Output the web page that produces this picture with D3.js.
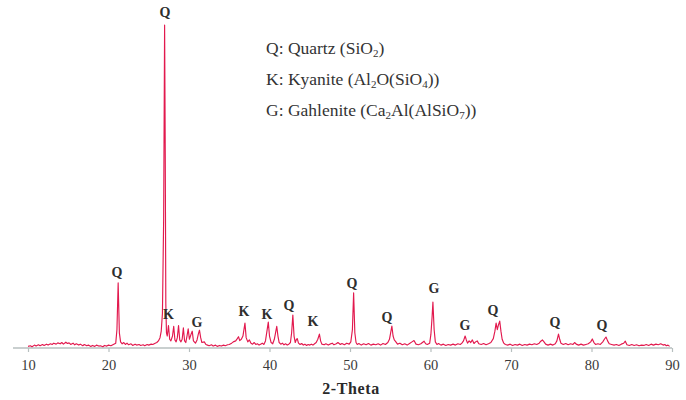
<!DOCTYPE html>
<html>
<head>
<meta charset="utf-8">
<script src="https://cdn.jsdelivr.net/npm/d3@7"></script>
<style>
  html, body { margin: 0; padding: 0; background: #ffffff; }
  svg { display: block; }
</style>
</head>
<body>
<svg id="chart" width="686" height="400"></svg>
<script>
// XRD pattern: [2-theta (deg), intensity (counts, main peak = 1000)]
const pattern = [
  [10.0,8],[10.3,10],[10.5,7],[10.8,12],[11.0,9],[11.3,13],[11.5,10],[11.8,14],[12.0,11],[12.3,15],
  [12.5,12],[12.8,16],[13.0,14],[13.2,18],[13.5,15],[13.7,19],[14.0,16],[14.2,20],[14.4,15],[14.7,21],
  [14.9,17],[15.1,19],[15.3,14],[15.6,18],[15.8,13],[16.0,16],[16.3,12],[16.5,15],[16.8,10],[17.0,14],
  [17.3,10],[17.5,12],[17.8,8],[18.0,11],[18.3,8],[18.5,12],[18.8,9],[19.0,10],[19.3,7],[19.5,11],
  [19.8,9],[20.0,12],[20.3,10],[20.6,14],[20.9,18],[21.05,60],[21.2,204],[21.35,50],[21.5,22],[21.7,16],
  [21.9,20],[22.1,14],[22.3,18],[22.5,13],[22.8,16],[23.0,11],[23.3,15],[23.5,12],[23.8,14],[24.0,11],
  [24.3,13],[24.5,10],[24.8,14],[25.0,12],[25.3,15],[25.5,14],[25.8,18],[26.0,20],[26.2,25],[26.4,35],
  [26.55,55],[26.7,110],[26.85,400],[26.97,1000],[27.05,600],[27.12,140],[27.2,50],[27.3,40],[27.45,72],[27.6,30],
  [27.75,25],[27.95,40],[28.1,70],[28.25,28],[28.4,22],[28.55,35],[28.7,72],[28.85,28],[29.0,22],[29.15,30],
  [29.3,65],[29.45,25],[29.6,20],[29.75,40],[29.9,62],[30.05,30],[30.25,45],[30.4,55],[30.55,25],[30.8,18],
  [31.0,28],[31.15,45],[31.3,58],[31.45,35],[31.6,20],[31.9,22],[32.1,14],[32.3,12],[32.5,10],[32.8,13],
  [33.0,9],[33.3,12],[33.5,8],[33.8,11],[34.0,9],[34.3,12],[34.5,10],[34.8,13],[35.0,14],[35.3,18],
  [35.5,22],[35.8,25],[36.0,32],[36.15,38],[36.3,26],[36.5,30],[36.7,40],[36.95,80],[37.1,35],[37.3,22],
  [37.5,28],[37.7,18],[37.9,15],[38.1,20],[38.3,14],[38.5,16],[38.7,12],[38.9,15],[39.1,18],[39.3,14],
  [39.5,25],[39.65,50],[39.85,83],[40.0,40],[40.2,20],[40.4,16],[40.6,30],[40.75,50],[40.9,70],[41.05,40],
  [41.2,20],[41.4,15],[41.6,18],[41.8,13],[42.0,16],[42.2,12],[42.4,15],[42.6,20],[42.75,50],[42.9,105],
  [43.05,40],[43.2,20],[43.35,30],[43.45,32],[43.6,18],[43.8,14],[44.0,17],[44.2,12],[44.4,15],[44.6,11],
  [44.8,14],[45.0,12],[45.2,15],[45.4,12],[45.6,16],[45.8,20],[46.0,30],[46.2,46],[46.35,25],[46.5,15],
  [46.8,13],[47.0,16],[47.3,12],[47.5,15],[47.8,18],[48.0,13],[48.3,16],[48.5,20],[48.8,14],[49.0,17],
  [49.3,13],[49.6,18],[49.9,15],[50.1,22],[50.3,60],[50.45,173],[50.6,50],[50.75,20],[50.9,14],[51.1,17],
  [51.4,12],[51.7,16],[52.0,13],[52.3,17],[52.6,12],[52.9,15],[53.2,13],[53.5,16],[53.8,12],[54.1,17],
  [54.4,14],[54.7,20],[54.9,30],[55.05,50],[55.2,71],[55.35,40],[55.5,28],[55.7,22],[55.9,15],[56.2,18],
  [56.5,13],[56.8,16],[57.1,12],[57.4,17],[57.7,22],[57.95,26],[58.2,15],[58.5,13],[58.8,16],[59.0,20],
  [59.2,24],[59.4,16],[59.6,14],[59.9,18],[60.05,45],[60.2,100],[60.3,145],[60.45,60],[60.6,22],[60.8,14],
  [61.0,17],[61.3,12],[61.6,15],[61.9,11],[62.2,14],[62.5,12],[62.8,15],[63.1,12],[63.4,16],[63.7,14],
  [63.9,18],[64.1,25],[64.3,40],[64.45,28],[64.6,18],[64.8,25],[65.0,20],[65.2,28],[65.4,17],[65.6,22],
  [65.8,25],[66.0,16],[66.3,14],[66.6,17],[66.9,13],[67.2,16],[67.5,20],[67.8,32],[68.0,55],[68.15,80],
  [68.3,60],[68.45,75],[68.6,86],[68.75,55],[68.9,30],[69.1,18],[69.3,14],[69.6,12],[69.9,15],[70.2,11],
  [70.5,14],[70.8,12],[71.1,15],[71.4,11],[71.7,14],[72.0,12],[72.3,15],[72.6,13],[72.9,16],[73.2,14],
  [73.5,18],[73.7,24],[73.9,28],[74.1,22],[74.3,15],[74.6,12],[74.9,15],[75.2,12],[75.5,16],[75.7,25],
  [75.9,46],[76.05,30],[76.2,18],[76.5,14],[76.8,17],[77.1,13],[77.4,16],[77.7,14],[77.9,20],[78.1,15],
  [78.4,12],[78.7,15],[79.0,12],[79.3,14],[79.6,16],[79.9,22],[80.1,31],[80.3,20],[80.5,14],[80.8,16],
  [81.1,14],[81.4,22],[81.6,30],[81.8,37],[82.0,25],[82.2,16],[82.5,14],[82.8,12],[83.1,14],[83.4,11],
  [83.7,15],[84.0,18],[84.2,24],[84.4,13],[84.7,11],[85.0,14],[85.3,11],[85.6,13],[85.9,10],[86.2,12],
  [86.5,11],[86.8,14],[87.1,11],[87.4,15],[87.7,12],[88.0,15],[88.3,13],[88.6,16],[88.9,12],[89.1,14],
  [89.3,10],[89.5,12],[89.7,8]
];

// Phase markers: letter, 2-theta, intensity level of the marker
const peakLetters = ["Q","Q","K","G","K","K","Q","K","Q","Q","G","G","Q","Q","Q"];
const peakTheta   = [27.02,21.06,27.45,31.0,36.83,39.69,42.42,45.40,50.25,54.60,60.43,64.29,67.76,75.47,81.30];
const peakLevel   = [1040,238,108,83,117,108,136,86,204,99,188,74,120,83,74];

// Axis ticks
const xTicks = [10,20,30,40,50,60,70,80,90];
const xTitle = "2-Theta";

// Legend rows: prefix, then formula parts as [text, isSubscript]
const legendRows = [
  ["Q: Quartz (", [["SiO",0],["2",1],[")",0]]],
  ["K: Kyanite (", [["Al",0],["2",1],["O(SiO",0],["4",1],["))",0]]],
  ["G: Gahlenite (", [["Ca",0],["2",1],["Al(AlSiO",0],["7",1],["))",0]]]
];

const svg = d3.select("#chart");
const W = 686, H = 400;
svg.append("rect").attr("width", W).attr("height", H).attr("fill", "#ffffff");

const x = d3.scaleLinear().domain([10, 90]).range([28, 672]);
const y = d3.scaleLinear().domain([0, 1000]).range([349, 25]);
const axisY = 348;
const serif = '"Liberation Serif", "Times New Roman", serif';

// baseline axis
svg.append("line")
  .attr("x1", 13).attr("x2", x(90))
  .attr("y1", axisY).attr("y2", axisY)
  .attr("stroke", "#b7bfbf").attr("stroke-width", 1.5);

const axis = d3.axisBottom(x).tickValues(xTicks).tickSize(4).tickPadding(8)
  .tickFormat(d3.format("d"));
const gx = svg.append("g").attr("transform", `translate(0,${axisY})`).call(axis);
gx.attr("font-family", null);
gx.select(".domain").remove();
gx.selectAll(".tick line").attr("stroke", "#b7bfbf").attr("stroke-width", 1.2);
gx.selectAll(".tick text")
  .attr("fill", "#3a3a3a")
  .style("font-family", serif)
  .style("font-size", "14.5px");

svg.append("text")
  .attr("x", 351).attr("y", 394)
  .attr("text-anchor", "middle")
  .attr("fill", "#2a2a2a")
  .style("font-family", serif)
  .style("font-weight", "bold")
  .style("font-size", "16px")
  .style("letter-spacing", "0.6px")
  .text(xTitle);

// diffraction trace
const line = d3.line().x(d => x(d[0])).y(d => y(d[1]));
svg.append("path")
  .datum(pattern)
  .attr("d", line)
  .attr("fill", "none")
  .attr("stroke", "#e2194e")
  .attr("stroke-width", 1.15)
  .attr("stroke-linejoin", "round");

// phase letters above peaks
svg.append("g").selectAll("text")
  .data(peakLetters)
  .join("text")
  .attr("x", (d, i) => x(peakTheta[i]))
  .attr("y", (d, i) => y(peakLevel[i]) + 5)
  .attr("text-anchor", "middle")
  .attr("fill", "#2e2e2e")
  .style("font-family", serif)
  .style("font-weight", "bold")
  .style("font-size", "14px")
  .text(d => d);

// phase legend
const legend = svg.append("g");
legendRows.forEach((row, i) => {
  const t = legend.append("text")
    .attr("x", 266).attr("y", 54 + i * 31)
    .attr("fill", "#333333")
    .style("font-family", serif)
    .style("font-size", "17.5px");
  t.append("tspan").text(row[0]);
  row[1].forEach(([s, sub]) => {
    const ts = t.append("tspan").text(s);
    if (sub) ts.attr("baseline-shift", "-30%").style("font-size", "11px");
  });
});
</script>
</body>
</html>
